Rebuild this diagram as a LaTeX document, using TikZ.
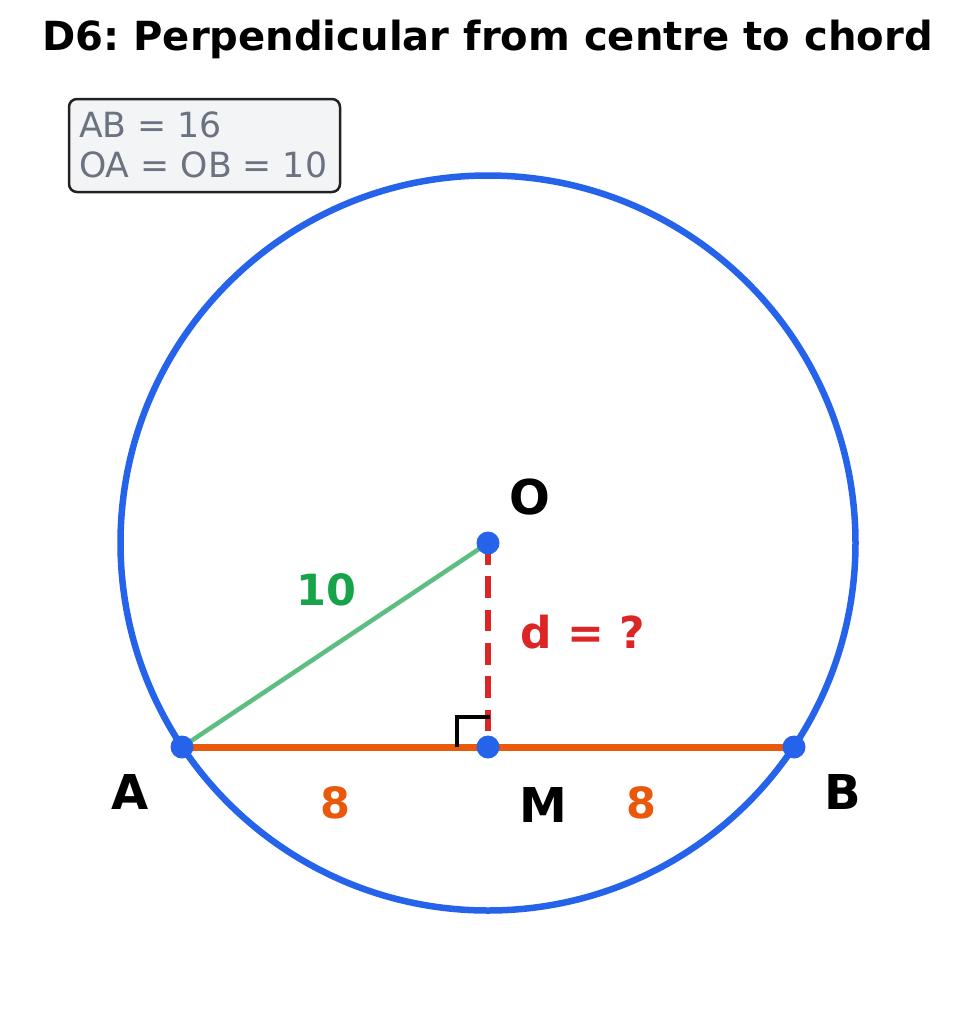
\documentclass[tikz,border=0pt]{standalone}
\usepackage{fontspec}
\setmainfont{DejaVu Sans}
\frenchspacing
\definecolor{cblue}{HTML}{2563EB}
\definecolor{corange}{HTML}{EA580C}
\definecolor{cgreen}{HTML}{16A34A}
\definecolor{cgreenl}{HTML}{5CBE80}
\definecolor{cred}{HTML}{DC2626}
\definecolor{cgray}{HTML}{6B7280}
\definecolor{cboxfill}{HTML}{F3F4F6}
\definecolor{cboxline}{HTML}{222222}
\tikzset{
  dot/.style={circle,fill=cblue,inner sep=0pt,minimum size=23pt},
  ptlabel/.style={font=\fontsize{48}{54}\selectfont\bfseries,text=black,inner sep=0pt},
  numlabel/.style={font=\fontsize{43}{50}\selectfont\bfseries,inner sep=0pt},
  infotext/.style={font=\fontsize{34.7}{40}\selectfont,text=cgray,anchor=base west,inner sep=0pt},
}
\begin{document}
\begin{tikzpicture}[x=1pt,y=-1pt]
\useasboundingbox (0,0) rectangle (975,1031);
% title
\node[font=\fontsize{40.1}{46}\selectfont\bfseries,anchor=base,inner sep=0pt] (title) at (487.5,50) {D6: Perpendicular from centre to chord};
% info box
\draw[cboxline,line width=2.5pt,fill=cboxfill,rounded corners=8pt] (69,99) rectangle (340,192);
\node[infotext] (l1) at (79,137) {AB = 16};
\node[infotext] (l2) at (79,177) {OA = OB = 10};
% points
\coordinate (O) at (488,543);
\coordinate (A) at (182,747);
\coordinate (B) at (794,747);
\coordinate (M) at (488,747);
% circle
\draw[cblue,line width=6.5pt] (O) circle (367.5);
% chord
\draw[corange,line width=7pt] (A) -- (B);
% radius OA
\draw[cgreenl,line width=4.5pt] (A) -- (O);
% OM dashed
\draw[cred,line width=5.7pt,dash pattern=on 21.7pt off 11.6pt] (O) -- (M);
% right angle mark
\coordinate (r1) at (457,747);
\coordinate (r2) at (457,717);
\coordinate (r3) at (490,717);
\draw[black,line width=4pt] (r1) -- (r2) -- (r3);
% dots
\node[dot] (dO) at (O) {};
\node[dot] (dA) at (A) {};
\node[dot] (dB) at (B) {};
\node[dot] (dM) at (M) {};
% labels
\node[ptlabel] (lO) at (530,497) {O};
\node[ptlabel] (lA) at (130,792) {A};
\node[ptlabel] (lB) at (843,792) {B};
\node[ptlabel] (lM) at (543,805) {M};
\node[numlabel,text=cgreen] (l10) at (326,590) {10};
\node[numlabel,text=corange] (l8a) at (335.5,803) {8};
\node[numlabel,text=corange] (l8b) at (641,803) {8};
\node[numlabel,font=\fontsize{44}{50}\selectfont\bfseries,text=cred,anchor=west] (ld) at (520,632) {d = ?};
\end{tikzpicture}
\end{document}
